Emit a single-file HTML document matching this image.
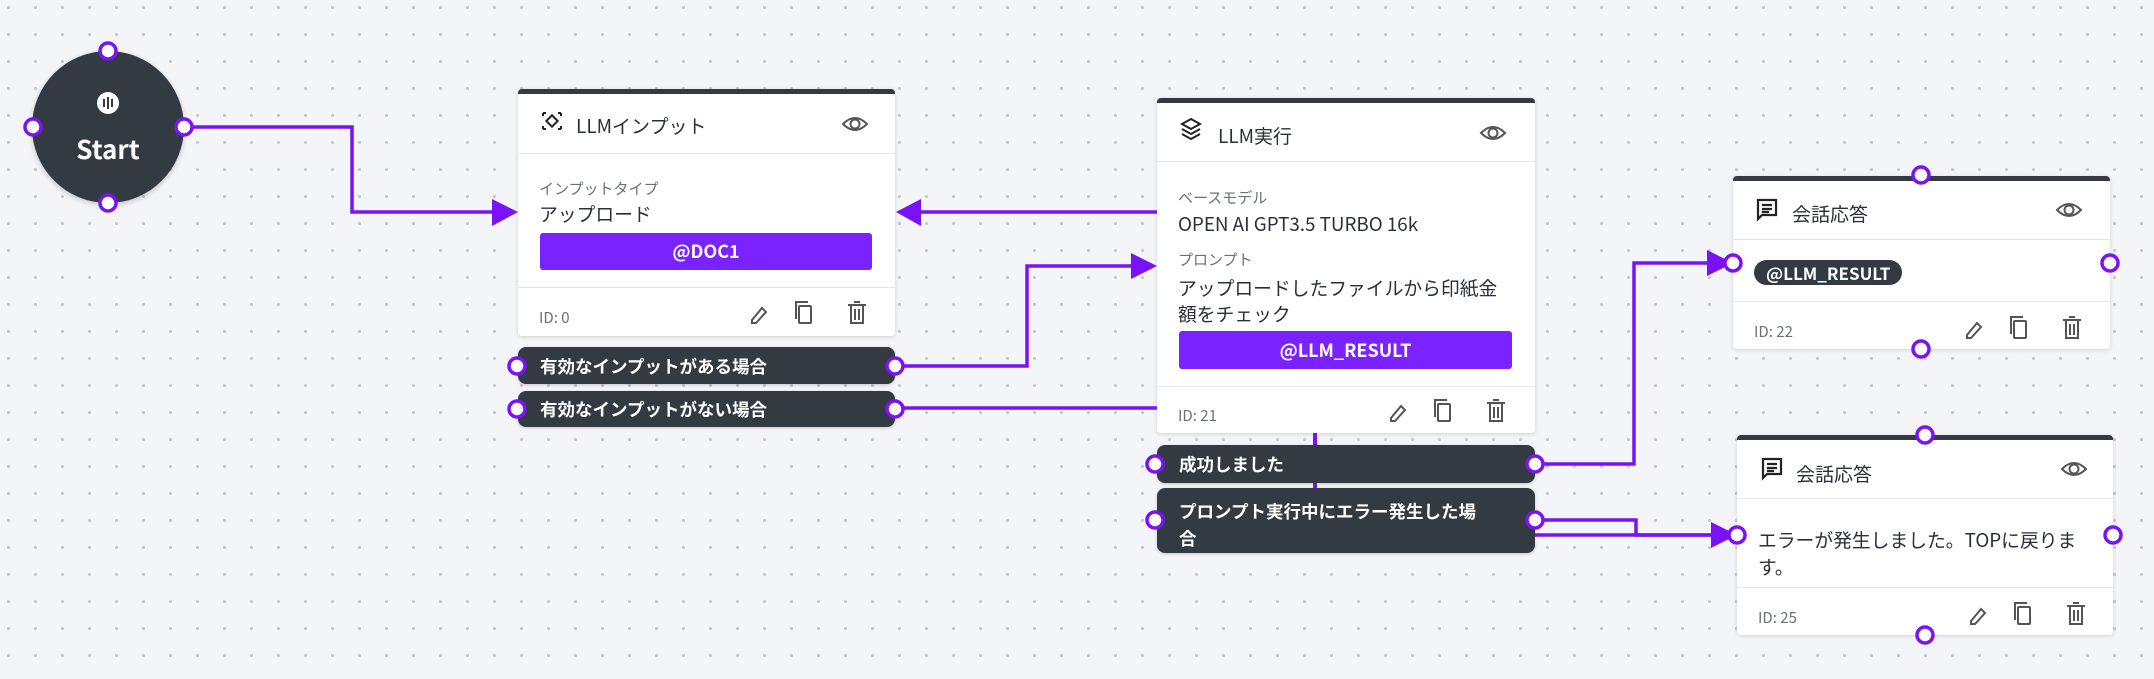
<!DOCTYPE html>
<html><head><meta charset="utf-8"><style>
*{box-sizing:border-box;margin:0;padding:0}
body{width:2154px;height:679px;overflow:hidden;position:relative;background-color:#f3f5f8;background-image:radial-gradient(circle,#c4c8cf 1.4px,transparent 1.8px);background-size:27px 27px;background-position:-5px -6px;font-family:"Noto Sans CJK JP","Liberation Sans",sans-serif;color:#2f333a}
.card{position:absolute;background:#fff;border-top:5px solid #343a42;border-radius:4px;box-shadow:0 1px 5px rgba(0,0,0,.15)}
.hd{position:absolute;left:0;right:0;top:0;border-bottom:1.5px solid #e4e6ea}
.ft{position:absolute;left:0;right:0;border-top:1.5px solid #e4e6ea}
.t{position:absolute;white-space:nowrap;line-height:1.2}
.title{font-size:19px;color:#2b2f36}
.lbl{font-size:15px;color:#6b6f76}
.val{font-size:18.8px;color:#2b2f36}
.id{font-size:15px;color:#6b6f76}
.btn{position:absolute;background:#7a22ff;color:#fff;border-radius:3px;font-weight:bold;font-size:18px;text-align:center}
.pill{position:absolute;background:#343a42;color:#fff;border-radius:8px;font-weight:bold;font-size:17.5px;box-shadow:0 1px 3px rgba(0,0,0,.2)}
svg{position:absolute;left:0;top:0}
</style></head><body>

<div style="position:absolute;left:32px;top:51px;width:152px;height:152px;border-radius:50%;background:#343a42;box-shadow:0 2px 6px rgba(0,0,0,.2)"></div>
<div style="position:absolute;left:97px;top:92px;width:22px;height:22px;border-radius:50%;background:#fff"></div>
<div class="t" style="left:68px;top:133px;width:80px;text-align:center;color:#fff;font-size:26px;font-weight:bold">Start</div>

<div class="card" style="left:518px;top:89px;width:377px;height:247px">
 <div class="hd" style="height:60px"></div>
 <div class="t title" style="left:58px;top:21px">LLMインプット</div>
 <div class="t lbl" style="left:21px;top:86px">インプットタイプ</div>
 <div class="t val" style="left:21px;top:109px">アップロード</div>
 <div class="btn" style="left:22px;top:139px;width:332px;height:37px;line-height:37px">@DOC1</div>
 <div class="ft" style="top:193px"></div>
 <div class="t id" style="left:21px;top:215px">ID: 0</div>
</div>
<div class="pill" style="left:518px;top:347px;width:377px;height:37px;line-height:39px;padding-left:22px">有効なインプットがある場合</div>
<div class="pill" style="left:518px;top:391px;width:377px;height:36px;line-height:38px;padding-left:22px">有効なインプットがない場合</div>

<div class="card" style="left:1157px;top:98px;width:378px;height:335px">
 <div class="hd" style="height:59px"></div>
 <div class="t title" style="left:61px;top:22px">LLM実行</div>
 <div class="t lbl" style="left:21px;top:86px">ベースモデル</div>
 <div class="t val" style="left:21px;top:110px">OPEN AI GPT3.5 TURBO 16k</div>
 <div class="t lbl" style="left:21px;top:148px">プロンプト</div>
 <div class="t val" style="left:21px;top:172px;line-height:26px">アップロードしたファイルから印紙金<br>額をチェック</div>
 <div class="btn" style="left:22px;top:228px;width:333px;height:38px;line-height:38px">@LLM_RESULT</div>
 <div class="ft" style="top:283px"></div>
 <div class="t id" style="left:21px;top:304px">ID: 21</div>
</div>
<div style="position:absolute;left:1313px;top:433px;width:4px;height:60px;background:#7a12f5"></div>
<div class="pill" style="left:1157px;top:445px;width:378px;height:38px;line-height:40px;padding-left:22px">成功しました</div>
<div class="pill" style="left:1157px;top:488px;width:378px;height:65px;line-height:27px;padding:10px 0 0 22px">プロンプト実行中にエラー発生した場<br>合</div>

<div class="card" style="left:1733px;top:176px;width:377px;height:173px">
 <div class="hd" style="height:59px"></div>
 <div class="t title" style="left:59px;top:22px">会話応答</div>
 <div class="t" style="left:21px;top:79px;height:25px;line-height:25px;padding:0 12px;background:#343a42;color:#fff;border-radius:13px;font-weight:bold;font-size:17px">@LLM_RESULT</div>
 <div class="ft" style="top:120px"></div>
 <div class="t id" style="left:21px;top:142px">ID: 22</div>
</div>

<div class="card" style="left:1737px;top:435px;width:376px;height:200px">
 <div class="hd" style="height:59px"></div>
 <div class="t title" style="left:59px;top:23px">会話応答</div>
 <div class="t val" style="left:21px;top:86px;line-height:27px">エラーが発生しました。TOPに戻りま<br>す。</div>
 <div class="ft" style="top:147px"></div>
 <div class="t id" style="left:21px;top:169px">ID: 25</div>
</div>

<svg width="2154" height="679" viewBox="0 0 2154 679">
<defs>
<g id="eye"><path d="M-12 0 Q0 -12 12 0 Q0 12 -12 0Z" fill="none" stroke="#555" stroke-width="2"/><circle r="4.5" fill="none" stroke="#555" stroke-width="2"/></g>
<g id="foot" fill="none" stroke="#555" stroke-width="2">
 <path d="M-54 9 L-44 -3 L-40 1 L-50 12 L-54 12Z"/>
 <rect x="-7" y="-5" width="12" height="17" rx="1"/><path d="M-10 8 V-9 H2"/>
 <path d="M42 -6 H60 M45 -6 V12 H57 V-6 M48 -9 H54 M49 -2 V9 M53 -2 V9"/>
</g>
<g id="chat" fill="none" stroke="#222" stroke-width="2.2"><path d="M-9 -9 H9 V6 H-5 L-9 10 Z"/><path d="M-5 -4 H5 M-5 0 H5 M-5 3 H2"/></g>
</defs>
<g fill="none" stroke="#7a12f5" stroke-width="3.5">
 <path d="M184 127 H352 V212 H495"/>
 <path d="M1157 212 H918"/>
 <path d="M895 366 H1027 V266 H1135"/>
 <path d="M895 408 H1157"/>
 <path d="M1535 464 H1634 V263 H1710"/>
 <path d="M1535 520 H1636 V535 H1714"/>
 <path d="M1535 535 H1714"/>
</g>
<g fill="#7a12f5">
 <polygon points="492,199 518,212 492,226"/>
 <polygon points="921,199 896,212 921,226"/>
 <polygon points="1131,253 1157,266 1131,279"/>
 <polygon points="1707,250 1733,263 1707,276"/>
 <polygon points="1711,522 1737,535 1711,548"/>
</g>
<g fill="#fff" stroke="#7a12f5" stroke-width="3.5">
 <circle cx="108" cy="51" r="8"/><circle cx="108" cy="203" r="8"/><circle cx="33" cy="127" r="8"/><circle cx="184" cy="127" r="8"/>
 <circle cx="517" cy="366" r="8"/><circle cx="895" cy="366" r="8"/><circle cx="517" cy="409" r="8"/><circle cx="895" cy="409" r="8"/>
 <circle cx="1155" cy="464" r="8"/><circle cx="1535" cy="464" r="8"/><circle cx="1155" cy="520" r="8"/><circle cx="1535" cy="520" r="8"/>
 <circle cx="1921" cy="175" r="8"/><circle cx="1921" cy="349" r="8"/><circle cx="1733" cy="263" r="8"/><circle cx="2110" cy="263" r="8"/>
 <circle cx="1925" cy="435" r="8"/><circle cx="1925" cy="635" r="8"/><circle cx="1737" cy="535" r="8"/><circle cx="2113" cy="535" r="8"/>
</g>
<g fill="#343a42"><rect x="103" y="99" width="2" height="8"/><rect x="107" y="97" width="2" height="12"/><rect x="111" y="99" width="2" height="8"/></g>
<use href="#eye" x="855" y="124"/><use href="#eye" x="1493" y="133"/><use href="#eye" x="2069" y="210"/><use href="#eye" x="2074" y="469"/>
<use href="#foot" x="806" y="311"/><use href="#foot" x="1445" y="409"/><use href="#foot" x="2021" y="326"/><use href="#foot" x="2025" y="612"/>
<g fill="none" stroke="#222" stroke-width="2"><rect x="548" y="117" width="8" height="8" transform="rotate(45 552 121)"/><path d="M543 113 V116 M543 113 H546 M561 113 V116 M561 113 H558 M543 129 V126 M543 129 H546 M561 129 V126 M561 129 H558"/></g>
<g fill="none" stroke="#222" stroke-width="2"><path d="M1182 124 L1191 119 L1200 124 L1191 129Z"/><path d="M1182 129 L1191 134 L1200 129"/><path d="M1182 134 L1191 139 L1200 134"/></g>
<use href="#chat" x="1767" y="209"/><use href="#chat" x="1772" y="468"/>
</svg>
</body></html>
